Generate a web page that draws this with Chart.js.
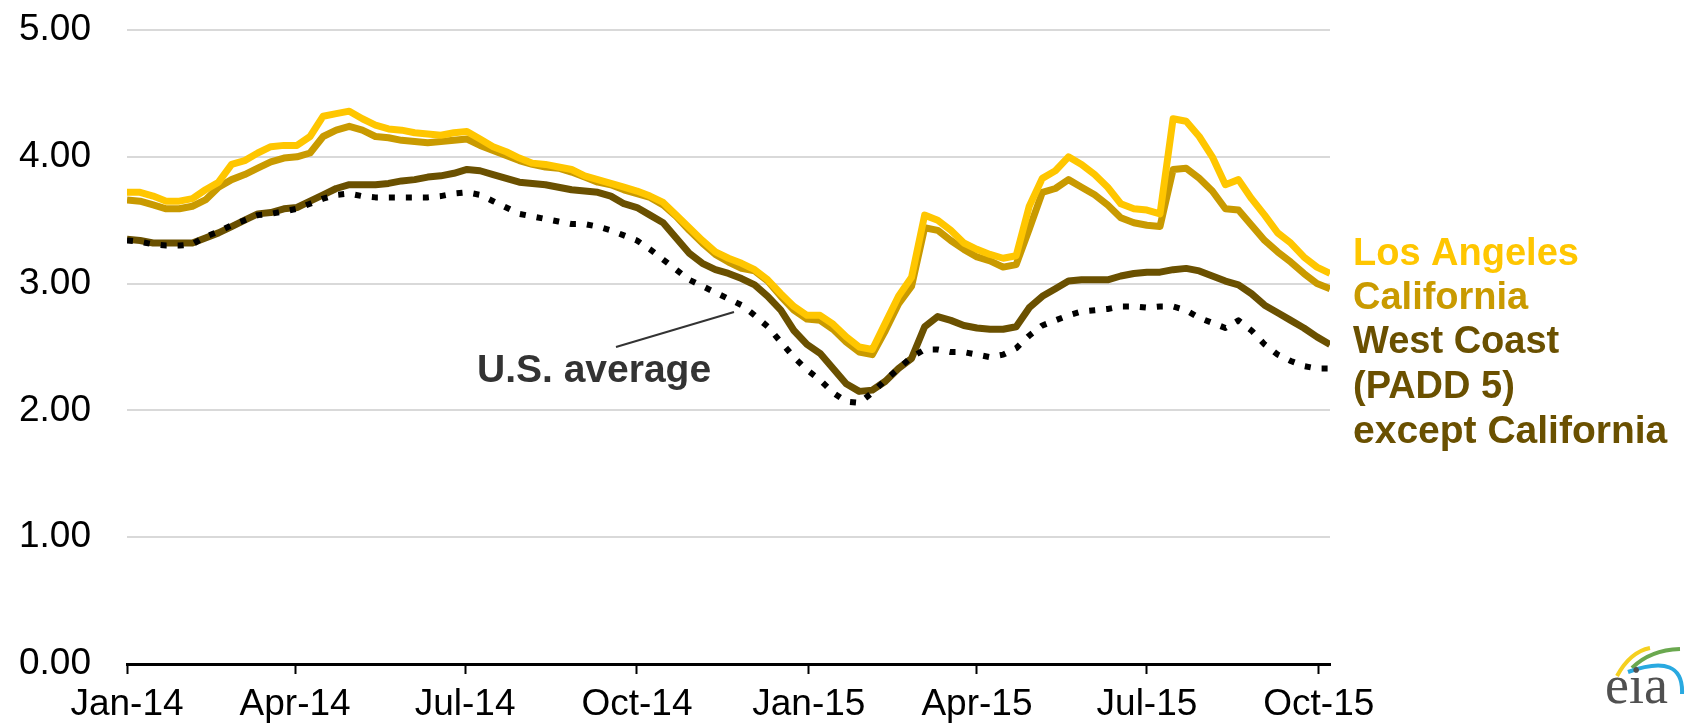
<!DOCTYPE html>
<html>
<head>
<meta charset="utf-8">
<script src="https://cdn.jsdelivr.net/npm/chart.js@4.4.0/dist/chart.umd.min.js"></script>
<style>
  html, body { margin: 0; padding: 0; background: #fff; }
  #wrap { width: 1685px; height: 727px; }
</style>
</head>
<body>
<div id="wrap"><canvas id="chart" width="1685" height="727"></canvas></div>
<script>
// weekly retail gasoline prices, $/gal, Jan 2014 - Oct 2015
const losAngeles = [
  3.72, 3.72, 3.69, 3.65, 3.65, 3.67, 3.74, 3.80, 3.94, 3.97, 4.03, 4.08, 4.09, 4.09, 4.16, 4.32,
  4.34, 4.36, 4.30, 4.25, 4.22, 4.21, 4.19, 4.18, 4.17, 4.19, 4.20, 4.14, 4.08, 4.04, 3.99, 3.95,
  3.94, 3.92, 3.90, 3.85, 3.82, 3.79, 3.76, 3.73, 3.69, 3.64, 3.54, 3.44, 3.34, 3.25, 3.20, 3.16,
  3.11, 3.03, 2.92, 2.82, 2.75, 2.75, 2.68, 2.58, 2.50, 2.48, 2.69, 2.90, 3.05, 3.54, 3.50, 3.42,
  3.32, 3.27, 3.23, 3.20, 3.22, 3.61, 3.83, 3.89, 4.00, 3.94, 3.86, 3.76, 3.63, 3.59, 3.58, 3.55,
  4.30, 4.28, 4.16, 4.00, 3.78, 3.82, 3.67, 3.54, 3.40, 3.32, 3.21, 3.13, 3.08
];
const california = [
  3.66, 3.65, 3.62, 3.59, 3.59, 3.61, 3.66, 3.76, 3.82, 3.86, 3.91, 3.96, 3.99, 4.00, 4.03, 4.16,
  4.21, 4.24, 4.21, 4.16, 4.15, 4.13, 4.12, 4.11, 4.12, 4.13, 4.14, 4.09, 4.05, 4.01, 3.97, 3.94,
  3.92, 3.91, 3.88, 3.84, 3.80, 3.78, 3.74, 3.71, 3.68, 3.62, 3.53, 3.42, 3.32, 3.23, 3.17, 3.12,
  3.10, 3.02, 2.90, 2.79, 2.72, 2.71, 2.64, 2.54, 2.46, 2.44, 2.63, 2.84, 2.98, 3.44, 3.42, 3.34,
  3.27, 3.21, 3.18, 3.13, 3.15, 3.43, 3.72, 3.75, 3.82, 3.76, 3.70, 3.62, 3.52, 3.48, 3.46, 3.45,
  3.90, 3.91, 3.83, 3.73, 3.59, 3.58, 3.46, 3.34, 3.25, 3.17, 3.08, 3.00, 2.96
];
const westCoastExCA = [
  3.35, 3.34, 3.32, 3.32, 3.32, 3.32, 3.36, 3.40, 3.45, 3.50, 3.55, 3.56, 3.59, 3.60, 3.65, 3.70,
  3.75, 3.78, 3.78, 3.78, 3.79, 3.81, 3.82, 3.84, 3.85, 3.87, 3.90, 3.89, 3.86, 3.83, 3.80, 3.79,
  3.78, 3.76, 3.74, 3.73, 3.72, 3.69, 3.63, 3.60, 3.54, 3.48, 3.36, 3.24, 3.16, 3.11, 3.08, 3.04,
  2.99, 2.90, 2.79, 2.63, 2.52, 2.45, 2.33, 2.21, 2.15, 2.16, 2.23, 2.33, 2.41, 2.66, 2.74, 2.71,
  2.67, 2.65, 2.64, 2.64, 2.66, 2.81, 2.90, 2.96, 3.02, 3.03, 3.03, 3.03, 3.06, 3.08, 3.09, 3.09,
  3.11, 3.12, 3.10, 3.06, 3.02, 2.99, 2.92, 2.83, 2.77, 2.71, 2.65, 2.58, 2.52
];
const usAverage = [
  3.34, 3.33, 3.31, 3.30, 3.30, 3.31, 3.37, 3.41, 3.46, 3.50, 3.54, 3.55, 3.57, 3.59, 3.63, 3.67,
  3.70, 3.71, 3.69, 3.68, 3.68, 3.68, 3.68, 3.68, 3.69, 3.71, 3.72, 3.70, 3.65, 3.60, 3.55, 3.53,
  3.51, 3.49, 3.47, 3.47, 3.45, 3.42, 3.38, 3.34, 3.27, 3.19, 3.11, 3.03, 2.98, 2.93, 2.88, 2.83,
  2.75, 2.66, 2.54, 2.42, 2.32, 2.24, 2.14, 2.07, 2.06, 2.14, 2.24, 2.33, 2.42, 2.48, 2.48, 2.46,
  2.46, 2.44, 2.42, 2.44, 2.49, 2.59, 2.67, 2.71, 2.75, 2.78, 2.79, 2.80, 2.82, 2.82, 2.81, 2.82,
  2.82, 2.79, 2.73, 2.69, 2.65, 2.71, 2.63, 2.52, 2.44, 2.39, 2.35, 2.33, 2.33
];

// x axis in days since the first week; quarter labels
const tickLabels = ['Jan-14', 'Apr-14', 'Jul-14', 'Oct-14', 'Jan-15', 'Apr-15', 'Jul-15', 'Oct-15'];
const tickDays = [0, 90, 181, 273, 365, 455, 546, 638];
const yTicks = [0, 1, 2, 3, 4, 5];

const weekDays = usAverage.map((_, i) => i * 7);
const toPoints = arr => arr.map((v, i) => ({ x: weekDays[i], y: v }));

const FONT = "'Liberation Sans', Arial, sans-serif";

const notes = {
  id: 'notes',
  afterDraw(chart) {
    const ctx = chart.ctx;
    ctx.save();
    ctx.textAlign = 'left';
    ctx.textBaseline = 'alphabetic';
    ctx.font = 'bold 38px ' + FONT;
    const lx = chart.chartArea.right + 23;
    ctx.fillStyle = '#ffc600'; ctx.fillText('Los Angeles', lx, 265);
    ctx.fillStyle = '#c99a00'; ctx.fillText('California', lx, 309);
    ctx.fillStyle = '#6a5000';
    ctx.fillText('West Coast', lx, 353);
    ctx.fillText('(PADD 5)', lx, 398);
    ctx.font = 'bold 39px ' + FONT;
    ctx.fillText('except California', lx, 443);

    // U.S. average label with leader
    ctx.fillStyle = '#333';
    ctx.fillText('U.S. average', 477, 382);
    ctx.strokeStyle = '#333';
    ctx.lineWidth = 2;
    ctx.beginPath();
    ctx.moveTo(616, 347);
    ctx.lineTo(734, 312);
    ctx.stroke();

    // eia logo
    ctx.lineWidth = 4;
    ctx.strokeStyle = '#f5d020';
    ctx.beginPath(); ctx.moveTo(1617, 676); ctx.quadraticCurveTo(1630, 652, 1650, 648); ctx.stroke();
    ctx.strokeStyle = '#6aa84f';
    ctx.beginPath(); ctx.moveTo(1632, 668); ctx.quadraticCurveTo(1650, 650, 1680, 649); ctx.stroke();
    ctx.strokeStyle = '#29a9e0';
    ctx.beginPath(); ctx.moveTo(1628, 672); ctx.quadraticCurveTo(1684, 652, 1682, 694); ctx.stroke();
    ctx.fillStyle = '#505050';
    ctx.font = "54px 'Liberation Serif', 'Times New Roman', serif";
    ctx.fillText('eia', 1605, 703);
    ctx.restore();
  }
};

new Chart(document.getElementById('chart'), {
  type: 'line',
  data: {
    datasets: [
      { label: 'U.S. average', data: toPoints(usAverage), borderColor: '#000', borderWidth: 6,
        borderDash: [6, 11], borderCapStyle: 'butt' },
      { label: 'Los Angeles', data: toPoints(losAngeles), borderColor: '#ffc600', borderWidth: 7 },
      { label: 'California', data: toPoints(california), borderColor: '#c99a00', borderWidth: 7 },
      { label: 'West Coast (PADD 5) except California', data: toPoints(westCoastExCA),
        borderColor: '#6a5000', borderWidth: 7 }
    ]
  },
  options: {
    responsive: false,
    animation: false,
    events: [],
    elements: { point: { radius: 0 }, line: { tension: 0, borderJoinStyle: 'round' } },
    layout: { padding: { top: 30, right: 355, left: 0, bottom: 0 } },
    plugins: { legend: { display: false }, tooltip: { enabled: false } },
    scales: {
      x: {
        type: 'linear',
        min: 0,
        max: 644,
        afterBuildTicks: s => { s.ticks = tickDays.map(v => ({ value: v })); },
        afterFit: s => { s.height = 63; s.paddingLeft = 0; s.paddingRight = 0; },
        grid: { drawOnChartArea: false, drawTicks: true, tickLength: 10, tickWidth: 2, tickColor: '#000' },
        border: { display: true, color: '#000', width: 3 },
        ticks: {
          autoSkip: false, maxRotation: 0, padding: 9, color: '#000',
          font: { family: FONT, size: 37 },
          callback: v => tickLabels[tickDays.indexOf(v)]
        }
      },
      y: {
        min: 0,
        max: 5,
        afterBuildTicks: s => { s.ticks = yTicks.map(v => ({ value: v })); },
        afterFit: s => { s.width = 127; s.paddingTop = 0; s.paddingBottom = 0; },
        grid: { color: '#d9d9d9', lineWidth: 2, drawTicks: false },
        border: { display: false },
        ticks: {
          padding: 36, color: '#000',
          font: { family: FONT, size: 37 },
          callback: v => v.toFixed(2)
        }
      }
    }
  },
  plugins: [notes]
});
</script>
</body>
</html>
